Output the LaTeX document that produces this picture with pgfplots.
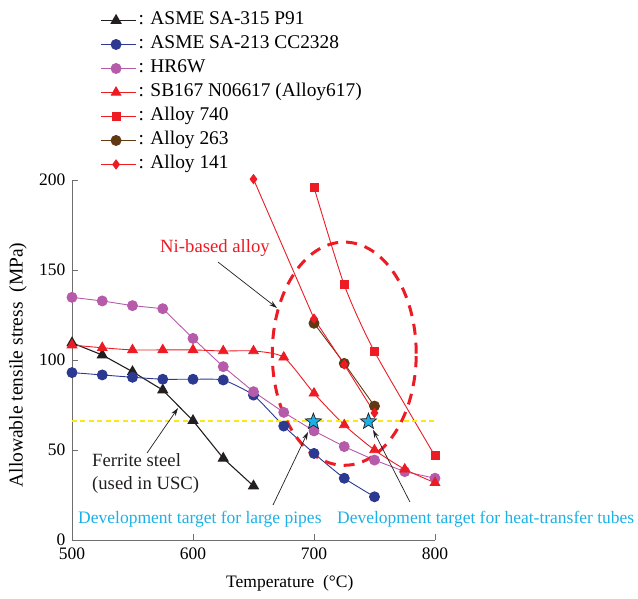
\documentclass[border=0pt]{standalone}
\usepackage{fontspec}
\setmainfont{Liberation Serif}
\usepackage{pgfplots}
\pgfplotsset{compat=1.18}
\usetikzlibrary{arrows.meta}

\definecolor{cblack}{RGB}{35,31,32}
\definecolor{cblue}{RGB}{43,57,144}
\definecolor{cpurple}{RGB}{182,90,170}
\definecolor{cred}{RGB}{237,28,36}
\definecolor{cbrown}{RGB}{96,57,19}
\definecolor{ccyan}{RGB}{27,177,231}
\definecolor{cyellow}{RGB}{250,232,20}
\definecolor{axgray}{RGB}{110,110,110}

% filled five-pointed star mark
\pgfdeclareplotmark{fstar}{%
  \pgfpathmoveto{\pgfqpointpolar{90}{\pgfplotmarksize}}%
  \pgfpathlineto{\pgfqpointpolar{126}{0.42\pgfplotmarksize}}%
  \pgfpathlineto{\pgfqpointpolar{162}{\pgfplotmarksize}}%
  \pgfpathlineto{\pgfqpointpolar{198}{0.42\pgfplotmarksize}}%
  \pgfpathlineto{\pgfqpointpolar{234}{\pgfplotmarksize}}%
  \pgfpathlineto{\pgfqpointpolar{270}{0.42\pgfplotmarksize}}%
  \pgfpathlineto{\pgfqpointpolar{306}{\pgfplotmarksize}}%
  \pgfpathlineto{\pgfqpointpolar{342}{0.42\pgfplotmarksize}}%
  \pgfpathlineto{\pgfqpointpolar{18}{\pgfplotmarksize}}%
  \pgfpathlineto{\pgfqpointpolar{54}{0.42\pgfplotmarksize}}%
  \pgfpathclose
  \pgfusepathqfillstroke}

\begin{document}
\begin{tikzpicture}[font=\fontsize{17.5bp}{21bp}\selectfont]
\begin{axis}[
  scale only axis, width=363bp, height=360bp,
  xmin=500, xmax=800, ymin=0, ymax=200,
  xtick={500,600,700,800}, ytick={0,50,100,150,200},
  axis lines*=left,
  axis line style={draw=axgray, line width=0.8bp, -},
  tick align=inside, major tick length=6bp,
  tick style={draw=axgray, line width=0.8bp},
  /pgf/number format/assume math mode=true,
  ticklabel style={font=\fontsize{17.5bp}{21bp}\selectfont},
  yticklabel style={xshift=-3bp},
  xticklabel style={yshift=-4bp},
  xlabel={Temperature\ \ (°C)},
  ylabel={Allowable tensile stress\ \ (MPa)},
  xlabel style={at={(axis description cs:0.6,-0.119)}, anchor=center},
  ylabel style={at={(axis description cs:-0.149,0.486)}, anchor=center,
    font=\fontsize{19.5bp}{23bp}\selectfont},
  clip=false,
  legend cell align=left,
  legend style={at={(axis description cs:0.078,1.477)}, anchor=north west,
    draw=none, fill=none, inner sep=0pt, row sep=0pt, column sep=0pt,
    font=\fontsize{19.4bp}{23bp}\selectfont,
    nodes={font=\fontsize{19.4bp}{23bp}\selectfont, inner sep=2bp,
      text height=14.5bp, text depth=5.5bp}},
  legend image code/.code={\path (0bp,0bp) -- (35bp,0bp);
    \draw[#1, mark repeat=2, mark phase=2]
    plot coordinates {(0bp,0bp) (15bp,0bp) (30bp,0bp)};},
]

% ASME SA-315 P91
\addplot[cblack, line width=1.1bp, mark=triangle*, mark size=5.5bp, mark options={solid, fill=cblack}]
  coordinates {(500,109.5) (525,102.8) (550,93.5) (575,83.3) (600,66.3) (625,45.4) (650,30)};
\addlegendentry{: ASME SA-315 P91}

% ASME SA-213 CC2328
\addplot[cblue, line width=0.9bp, smooth, tension=0.3, mark=*, mark size=5bp, mark options={fill=cblue}]
  coordinates {(500,93) (525,91.7) (550,90.4) (575,89.3) (600,89.3) (625,88.9) (650,80.5) (675,63.3) (700,48.1) (725,34.3) (750,24)};
\addlegendentry{: ASME SA-213 CC2328}

% HR6W
\addplot[cpurple, line width=0.9bp, mark=*, mark size=5bp, mark options={fill=cpurple}]
  coordinates {(500,134.8) (525,132.8) (550,130.2) (575,128.5) (600,112) (625,96.3) (650,82.4) (675,70.9) (700,60.6) (725,51.9) (750,44.4) (775,38) (800,34.3)};
\addlegendentry{: HR6W}

% SB167 N06617 (Alloy617)
\addplot[cred, line width=0.9bp, smooth, tension=0.4, mark=triangle*, mark size=5.5bp, mark options={fill=cred}]
  coordinates {(500,108.3) (525,106.8) (550,105.6) (575,105.6) (600,105.6) (625,105) (650,105) (675,101.5) (700,81.5) (725,63.9) (750,50) (775,39.3) (800,31.8)};
\addlegendentry{: SB167 N06617 (Alloy617)}

% Alloy 740
\addplot[cred, line width=0.9bp, smooth, tension=0.4, mark=square*, mark size=4bp, mark options={fill=cred}]
  coordinates {(700,195.9) (725,141.7) (750,104.6) (800,46.7)};
\addlegendentry{: Alloy 740}

% Alloy 263
\addplot[cbrown, line width=0.9bp, mark=*, mark size=5bp, mark options={fill=cbrown}]
  coordinates {(700,120.4) (725,98.1) (750,74.4)};
\addlegendentry{: Alloy 263}

% Alloy 141
\addplot[cred, line width=0.9bp, mark=diamond*, mark size=4.5bp, mark options={fill=cred}]
  coordinates {(650,200.5) (700,123) (725,97.5) (750,70.6)};
\addlegendentry{: Alloy 141}

% target level
\addplot[cyellow, line width=2.5bp, dash pattern=on 5bp off 3.5bp, forget plot]
  coordinates {(500,66) (800,66)};

% Ni-based alloy region
\draw[cred, line width=3bp, dash pattern=on 11bp off 8bp] (axis cs:725,103.5) ellipse [x radius=59.5, y radius=62];

% targets
\addplot[only marks, mark=fstar, mark size=8.5bp, mark options={fill=ccyan, draw=cblack, line width=0.7bp}, forget plot]
  coordinates {(699.5,65.8) (745,65.8)};

% annotations
\node[cred, font=\fontsize{18.7bp}{22bp}\selectfont] at (axis cs:618.2,162.2) {Ni-based alloy};
\draw[cblack, line width=0.7bp, -{Stealth[length=8bp,width=5bp]}] (axis cs:620.7,154.4) -- (axis cs:669.4,128.9);

\node[cblack, align=left, anchor=west, inner sep=0pt, font=\fontsize{18.7bp}{23bp}\selectfont] at (axis cs:516.5,37) {Ferrite steel\\(used in USC)};
\draw[cblack, line width=0.7bp, -{Stealth[length=8bp,width=5bp]}] (axis cs:562,48.3) -- (axis cs:587.6,73.3);

\node[ccyan, anchor=west, inner sep=0pt] at (axis cs:505,11.7) {Development target for large pipes};
\draw[cblack, line width=0.7bp, -{Stealth[length=8bp,width=5bp]}] (axis cs:666.1,19.4) -- (axis cs:695,60);

\node[ccyan, anchor=west, inner sep=0pt] at (axis cs:719,11.7) {Development target for heat-transfer tubes};
\draw[cblack, line width=0.7bp, -{Stealth[length=8bp,width=5bp]}] (axis cs:779.3,21.1) -- (axis cs:748.8,61.1);

\end{axis}
\pgfresetboundingbox
\path[use as bounding box] (-72bp,-59bp) rectangle (566bp,540bp);
\end{tikzpicture}
\end{document}
